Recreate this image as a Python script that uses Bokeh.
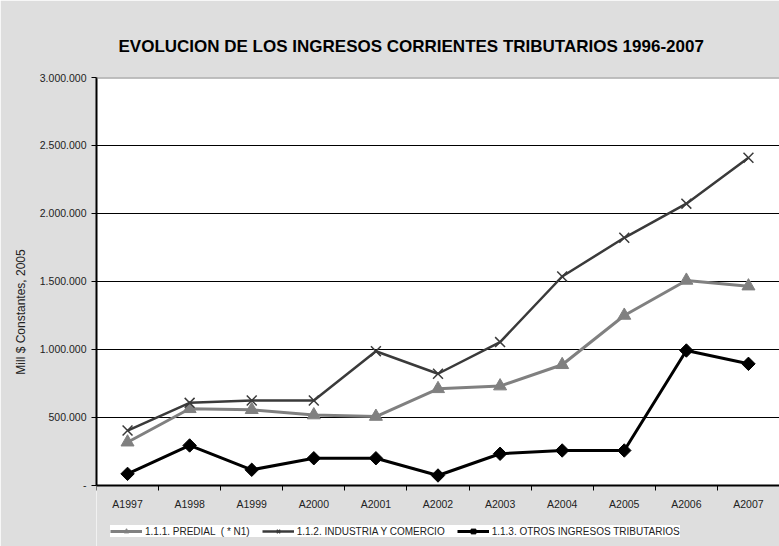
import numpy as np
from bokeh.plotting import figure
from bokeh.models import Range1d, FixedTicker, Legend, LegendItem, Span, BoxAnnotation
from bokeh.embed import file_html
from bokeh.resources import INLINE

TITLE = "EVOLUCION DE LOS INGRESOS CORRIENTES TRIBUTARIOS 1996-2007"
Y_LABEL = "Mill $ Constantes, 2005"

YEARS = ["A1997", "A1998", "A1999", "A2000", "A2001", "A2002",
         "A2003", "A2004", "A2005", "A2006", "A2007"]

PREDIAL = [315000, 561000, 554000, 515000, 504000, 708000,
           728000, 885000, 1248000, 1506000, 1464000]
INDUSTRIA = [401000, 605000, 622000, 622000, 985000, 819000,
             1052000, 1535000, 1820000, 2071000, 2409000]
OTROS = [82000, 291000, 112000, 197000, 197000, 70000,
         230000, 254000, 254000, 990000, 892000]

SERIES_NAMES = ["1.1.1. PREDIAL  ( * N1)",
                "1.1.2. INDUSTRIA Y COMERCIO",
                "1.1.3. OTROS INGRESOS TRIBUTARIOS"]

Y_TICKS = [0, 500000, 1000000, 1500000, 2000000, 2500000, 3000000]
Y_TICK_LABELS = ["-", "500.000", "1.000.000", "1.500.000",
                 "2.000.000", "2.500.000", "3.000.000"]

FONT = "Liberation Sans"
BG = "#dedede"

# layout (pixels)
W, H = 779, 546
LEFT, TOP = 96, 77
AXIS_Y = 484.5                     # pixel row of the value 0
frame_h = H - TOP
y_min, y_max = Y_TICKS[0], Y_TICKS[-1]
span_px = AXIS_Y - TOP
y_start = y_min - (y_max - y_min) * (frame_h - span_px) / span_px

n = len(YEARS)
xc = np.arange(n) + 0.5          # band centres
bounds = list(range(n + 1))      # band boundaries (tick marks)

p = figure(width=W, height=H, output_backend="svg", toolbar_location=None,
           x_range=Range1d(0, n), y_range=Range1d(y_start, y_max),
           min_border_left=LEFT, min_border_right=0, min_border_top=TOP,
           min_border_bottom=0,
           background_fill_color="white", border_fill_color=BG,
           outline_line_color=None)

# title
p.title.text = TITLE
p.title.text_font = FONT
p.title.text_font_size = "17px"
p.title.text_font_style = "bold"
p.title.text_color = "black"
p.title.align = "left"
p.title.offset = 22
p.title.standoff = 43

# grey area below the value axis (outside the plot area proper)
p.add_layout(BoxAnnotation(top=y_min, fill_color=BG, fill_alpha=1,
                           line_color=None, level="underlay"))

# grid
p.xgrid.grid_line_color = None
p.ygrid.ticker = FixedTicker(ticks=Y_TICKS)
p.ygrid.grid_line_color = "black"
p.ygrid.grid_line_width = 1

# y axis
yax = p.yaxis[0]
yax.ticker = FixedTicker(ticks=Y_TICKS, minor_ticks=[])
yax.bounds = (y_min, y_max)
yax.major_label_overrides = {t: l for t, l in zip(Y_TICKS, Y_TICK_LABELS)}
yax.axis_label = Y_LABEL
yax.axis_label_text_font = FONT
yax.axis_label_text_font_size = "12px"
yax.axis_label_text_font_style = "normal"
yax.axis_label_text_color = "#222222"
yax.axis_label_standoff = 9
yax.major_label_text_font = FONT
yax.major_label_text_font_size = "10.5px"
yax.major_label_text_color = "#222222"
yax.major_label_standoff = 5
yax.major_tick_out = 5
yax.major_tick_in = 0
yax.major_tick_line_color = "black"
yax.axis_line_width = 2
yax.axis_line_color = "black"

# x axis, fixed at value 0
xax = p.xaxis[0]
xax.fixed_location = y_min
xax.ticker = FixedTicker(ticks=list(xc), minor_ticks=bounds)
xax.major_label_overrides = {float(x): y for x, y in zip(xc, YEARS)}
xax.major_label_text_font = FONT
xax.major_label_text_font_size = "10.5px"
xax.major_label_text_color = "#222222"
xax.major_label_standoff = 7
xax.major_tick_line_color = None
xax.minor_tick_out = 5
xax.minor_tick_in = 0
xax.minor_tick_line_color = "black"
xax.minor_tick_line_width = 1
xax.axis_line_width = 2
xax.axis_line_color = "black"

# top border of plot area
p.add_layout(Span(location=y_max, dimension="width",
                  line_color="#808080", line_width=2))

# series
l1 = p.line(xc, PREDIAL, line_color="#808080", line_width=3)
m1 = p.scatter(xc, PREDIAL, marker="triangle", size=13,
               fill_color="#808080", line_color="#808080")
l2 = p.line(xc, INDUSTRIA, line_color="#3a3a3a", line_width=2.5)
m2 = p.scatter(xc, INDUSTRIA, marker="x", size=14,
               line_color="#3a3a3a", line_width=1.5)
l3 = p.line(xc, OTROS, line_color="black", line_width=3)
m3 = p.scatter(xc, OTROS, marker="square", size=9.5, angle=np.pi / 4,
               fill_color="black", line_color="black")

legend = Legend(items=[LegendItem(label=SERIES_NAMES[0], renderers=[l1, m1]),
                       LegendItem(label=SERIES_NAMES[1], renderers=[l2, m2]),
                       LegendItem(label=SERIES_NAMES[2], renderers=[l3, m3])],
                orientation="horizontal", location=(14, 9),
                background_fill_color="white", background_fill_alpha=1,
                border_line_color=None,
                label_text_font=FONT, label_text_font_size="10px",
                label_text_color="#222222",
                glyph_width=32, glyph_height=12, label_standoff=3,
                spacing=12, padding=8, margin=0)
p.add_layout(legend, "center")

open("out.html", "w").write(file_html(p, INLINE))
